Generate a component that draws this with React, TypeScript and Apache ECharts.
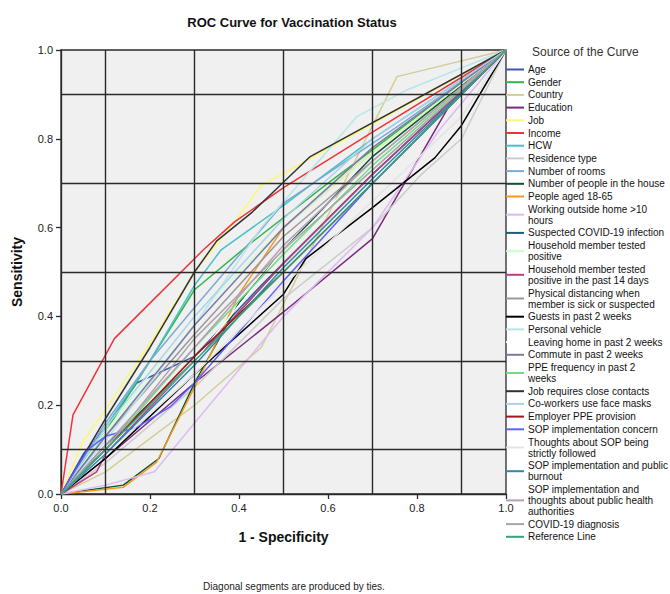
import React, { useEffect, useRef } from "react";
import * as echarts from "echarts";

const FONT = "'Liberation Sans', Arial, sans-serif";

// Series names (legend labels)
const names = [
  "Age",
  "Gender",
  "Country",
  "Education",
  "Job",
  "Income",
  "HCW",
  "Residence type",
  "Number of rooms",
  "Number of people in the house",
  "People aged 18-65",
  "Working outside home >10\nhours",
  "Suspected COVID-19 infection",
  "Household member tested\npositive",
  "Household member tested\npositive in the past 14 days",
  "Physical distancing when\nmember is sick or suspected",
  "Guests in past 2 weeks",
  "Personal vehicle",
  "Leaving home in past 2 weeks",
  "Commute in past 2 weeks",
  "PPE frequency in past 2\nweeks",
  "Job requires close contacts",
  "Co-workers use face masks",
  "Employer PPE provision",
  "SOP implementation concern",
  "Thoughts about SOP being\nstrictly followed",
  "SOP implementation and public\nburnout",
  "SOP implementation and\nthoughts about public health\nauthorities",
  "COVID-19 diagnosis",
  "Reference Line",
];

const colors = [
  "#3E58AC", "#2EB848", "#D3CE97", "#7C287D", "#FBF873", "#EF3338", "#48C2C5",
  "#CCCCCC", "#7AAAD5", "#0A562C", "#F8981D", "#DDBAF1", "#1A5F76", "#CCFFCC",
  "#BB3F7F", "#999999", "#000000", "#B6E7E8", "#FFFFFF", "#797AA7", "#70DC84",
  "#333333", "#ACD0EE", "#A21619", "#5D61FF", "#E4E4E4", "#278BAC", "#B89DBA",
  "#A6A6A6", "#35A373",
];

// ROC points: [1 - specificity, sensitivity]
const age = [[0, 0], [0.05, 0.09], [0.1, 0.15], [0.17, 0.25], [0.3, 0.31], [0.45, 0.47], [0.7, 0.72], [1, 1]];
const gender = [[0, 0], [0.1, 0.14], [0.3, 0.46], [0.42, 0.56], [0.6, 0.7], [0.8, 0.85], [1, 1]];
const country = [[0, 0], [0.1, 0.05], [0.3, 0.2], [0.45, 0.33], [0.52, 0.467], [0.755, 0.94], [1, 1]];
const education = [[0, 0], [0.1, 0.08], [0.3, 0.25], [0.5, 0.41], [0.7, 0.575], [0.87, 0.87], [1, 1]];
const job = [[0, 0], [0.05, 0.12], [0.1, 0.19], [0.2, 0.34], [0.3, 0.5], [0.395, 0.62], [0.45, 0.695], [0.55, 0.75], [1, 1]];
const income = [[0, 0], [0.027, 0.178], [0.12, 0.35], [0.32, 0.55], [0.39, 0.613], [0.5, 0.69], [0.7, 0.815], [1, 1]];
const hcw = [[0, 0], [0.1, 0.15], [0.2, 0.3], [0.3, 0.47], [0.36, 0.55], [0.5, 0.65], [0.7, 0.8], [1, 1]];
const residence = [[0, 0], [0.1, 0.07], [0.3, 0.24], [0.5, 0.44], [0.7, 0.6], [0.81, 0.72], [0.9, 0.8], [1, 1]];
const rooms = [[0, 0], [0.1, 0.16], [0.2, 0.3], [0.3, 0.42], [0.5, 0.655], [0.76, 0.83], [1, 1]];
const peopleHouse = [[0, 0], [0.14, 0.02], [0.22, 0.08], [0.3, 0.25], [0.4, 0.43], [0.5, 0.55], [0.7, 0.76], [1, 1]];
const aged1865 = [[0, 0], [0.14, 0.015], [0.215, 0.072], [0.32, 0.28], [0.4, 0.45], [0.5, 0.6], [0.7, 0.77], [1, 1]];
const workingOutside = [[0, 0], [0.1, 0.02], [0.21, 0.05], [0.3, 0.16], [0.5, 0.4], [0.7, 0.6], [0.85, 0.82], [1, 1]];
const suspected = [[0, 0], [0.1, 0.11], [0.3, 0.3], [0.5, 0.52], [0.7, 0.72], [1, 1]];
const hhPositive = [[0, 0], [0.1, 0.14], [0.3, 0.4], [0.5, 0.6], [0.7, 0.77], [1, 1]];
const hhPositive14 = [[0, 0], [0.08, 0.05], [0.1, 0.09], [0.3, 0.3], [0.5, 0.52], [0.7, 0.72], [1, 1]];
const physDistancing = [[0, 0], [0.1, 0.13], [0.3, 0.36], [0.5, 0.58], [0.7, 0.75], [1, 1]];
const guests = [[0, 0], [0.1, 0.08], [0.3, 0.27], [0.5, 0.45], [0.55, 0.53], [0.7, 0.645], [0.84, 0.757], [0.9, 0.83], [1, 1]];
const vehicle = [[0, 0], [0.1, 0.12], [0.3, 0.38], [0.45, 0.6], [0.575, 0.745], [0.665, 0.85], [0.777, 0.91], [1, 1]];
const leavingHome = [[0, 0], [0.1, 0.1], [0.3, 0.3], [0.5, 0.55], [0.7, 0.74], [1, 1]];
const commute = [[0, 0], [0.1, 0.13], [0.3, 0.38], [0.5, 0.6], [0.7, 0.78], [1, 1]];
const ppeFreq = [[0, 0], [0.1, 0.1], [0.3, 0.33], [0.5, 0.54], [0.7, 0.74], [1, 1]];
const closeContacts = [[0, 0], [0.1, 0.17], [0.2, 0.33], [0.3, 0.5], [0.35, 0.57], [0.43, 0.635], [0.56, 0.76], [1, 1]];
const coworkers = [[0, 0], [0.1, 0.15], [0.3, 0.4], [0.5, 0.62], [0.7, 0.8], [1, 1]];
const employerPpe = [[0, 0], [0.1, 0.1], [0.3, 0.31], [0.5, 0.5], [0.7, 0.7], [1, 1]];
const sopConcern = [[0, 0], [0.06, 0.1], [0.1, 0.13], [0.17, 0.15], [0.245, 0.196], [0.3, 0.25], [0.5, 0.48], [0.7, 0.7], [1, 1]];
const sopFollowed = [[0, 0], [0.1, 0.09], [0.3, 0.27], [0.5, 0.47], [0.7, 0.66], [0.9, 0.85], [1, 1]];
const sopBurnout = [[0, 0], [0.1, 0.09], [0.3, 0.29], [0.5, 0.51], [0.7, 0.71], [1, 1]];
const sopAuthorities = [[0, 0], [0.1, 0.11], [0.3, 0.33], [0.5, 0.56], [0.7, 0.75], [1, 1]];
const diagnosis = [[0, 0], [0.1, 0.1], [0.3, 0.35], [0.5, 0.55], [0.7, 0.73], [1, 1]];
const reference = [[0, 0], [1, 1]];

const curves = [
  age, gender, country, education, job, income, hcw, residence, rooms, peopleHouse,
  aged1865, workingOutside, suspected, hhPositive, hhPositive14, physDistancing, guests,
  vehicle, leavingHome, commute, ppeFreq, closeContacts, coworkers, employerPpe,
  sopConcern, sopFollowed, sopBurnout, sopAuthorities, diagnosis, reference,
];

// Axis ticks and grid-line positions
const tickStep = 0.2;
const gridLinePositions = [0.1, 0.3, 0.5, 0.7, 0.9];

export default function App() {
  const ref = useRef<HTMLDivElement>(null);

  useEffect(() => {
    if (!ref.current) return;
    const chart = echarts.init(ref.current, undefined, { renderer: "svg" });

    const lineSeries = curves.map((pts, i) => ({
      type: "line",
      name: names[i],
      data: pts,
      showSymbol: false,
      symbol: "none",
      z: 3,
      lineStyle: { color: colors[i], width: 1.5 },
      itemStyle: { color: colors[i] },
      emphasis: { disabled: true },
    }));

    const gridSeries = {
      type: "line",
      name: "__grid",
      data: [[0, 0]],
      symbol: "none",
      lineStyle: { opacity: 0 },
      z: 1,
      silent: true,
      markLine: {
        silent: true,
        symbol: ["none", "none"],
        label: { show: false },
        lineStyle: { color: "#2a2a2a", width: 1.4, type: "solid" },
        emphasis: { disabled: true },
        data: [
          ...gridLinePositions.map((v) => ({ xAxis: v })),
          ...gridLinePositions.map((v) => ({ yAxis: v })),
        ],
      },
    };

    chart.setOption({
      animation: false,
      textStyle: { fontFamily: FONT },
      title: [
        {
          text: "ROC Curve for Vaccination Status",
          left: 287,
          top: 11,
          textAlign: "center",
          textStyle: { fontSize: 13, fontWeight: "bold", color: "#111", fontFamily: FONT },
        },
        {
          text: "Source of the Curve",
          left: 527,
          top: 41,
          textStyle: { fontSize: 12, fontWeight: "normal", color: "#333", fontFamily: FONT },
        },
        {
          text: "Diagonal segments are produced by ties.",
          left: 289,
          top: 576,
          textAlign: "center",
          textStyle: { fontSize: 10, fontWeight: "normal", color: "#222", fontFamily: FONT },
        },
      ],
      grid: {
        left: 61,
        top: 50,
        width: 445,
        height: 444,
        show: true,
        backgroundColor: "#f0f0f0",
        borderColor: "#2a2a2a",
        borderWidth: 1.3,
      },
      legend: {
        orient: "vertical",
        left: 506,
        top: 64,
        padding: 0,
        itemGap: 1.7,
        itemWidth: 18,
        itemHeight: 2,
        icon: "rect",
        selectedMode: false,
        data: names,
        textStyle: { fontSize: 10, lineHeight: 11, color: "#111", fontFamily: FONT, padding: [0, 0, 0, -1] },
      },
      xAxis: {
        type: "value",
        min: 0,
        max: 1,
        interval: tickStep,
        name: "1 - Specificity",
        nameLocation: "middle",
        nameGap: 36,
        nameTextStyle: { fontSize: 14, fontWeight: "bold", color: "#111", fontFamily: FONT },
        axisLine: { show: true, lineStyle: { color: "#2a2a2a", width: 1.3 } },
        axisTick: { show: true, length: 5, lineStyle: { color: "#2a2a2a", width: 1.3 } },
        axisLabel: { fontSize: 11, color: "#222", margin: 8, formatter: (v: number) => v.toFixed(1) },
        splitLine: { show: false },
      },
      yAxis: {
        type: "value",
        min: 0,
        max: 1,
        interval: tickStep,
        name: "Sensitivity",
        nameLocation: "middle",
        nameGap: 37,
        nameTextStyle: { fontSize: 14, fontWeight: "bold", color: "#111", fontFamily: FONT },
        axisLine: { show: true, lineStyle: { color: "#2a2a2a", width: 1.3 } },
        axisTick: { show: true, length: 5, lineStyle: { color: "#2a2a2a", width: 1.3 } },
        axisLabel: { fontSize: 11, color: "#222", margin: 8, formatter: (v: number) => v.toFixed(1) },
        splitLine: { show: false },
      },
      series: [gridSeries, ...lineSeries],
    });

    return () => chart.dispose();
  }, []);

  return (
    <div
      ref={ref}
      style={{ position: "fixed", left: 0, top: 0, width: 670, height: 594, background: "#fff" }}
    />
  );
}
